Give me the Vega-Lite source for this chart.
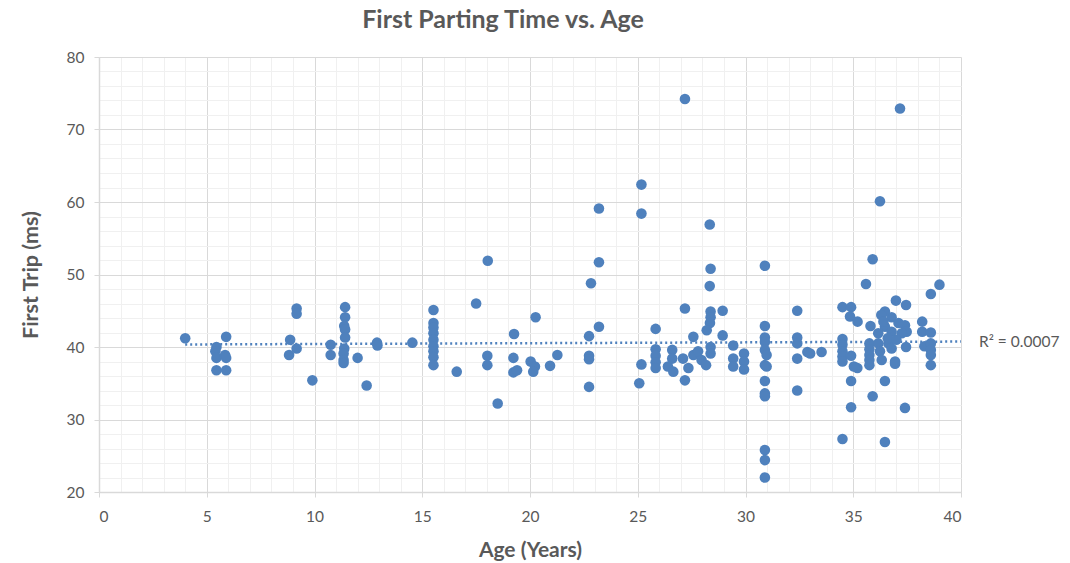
{
  "$schema": "https://vega.github.io/schema/vega-lite/v6.json",
  "autosize": "none",
  "width": 862,
  "height": 435,
  "padding": {"left": 99, "top": 57, "right": 109, "bottom": 71},
  "background": "white",
  "config": {
    "view": {"stroke": null},
    "font": "Lato",
    "axis": {"labelFont": "Lato", "titleFont": "Lato", "labelColor": "#595959", "titleColor": "#595959"}
  },
  "title": {"text": "First Parting Time vs. Age", "fontSize": 25, "font": "Lato", "fontWeight": "bold", "color": "#595959", "offset": 17, "dx": -27},
  "datasets": {
    "pts": [
      {"age": 4.0, "trip": 41.2}, {"age": 5.45, "trip": 40.0}, {"age": 5.4, "trip": 39.4}, {"age": 5.45, "trip": 38.5}, {"age": 5.45, "trip": 36.8},
      {"age": 5.85, "trip": 38.9}, {"age": 5.9, "trip": 38.5}, {"age": 5.9, "trip": 36.8}, {"age": 5.9, "trip": 41.4},
      {"age": 8.87, "trip": 41.0}, {"age": 9.17, "trip": 45.3}, {"age": 9.17, "trip": 44.6}, {"age": 9.17, "trip": 39.8}, {"age": 8.82, "trip": 38.9}, {"age": 9.9, "trip": 35.4},
      {"age": 10.75, "trip": 40.3}, {"age": 10.75, "trip": 38.9},
      {"age": 11.42, "trip": 45.5}, {"age": 11.42, "trip": 44.1}, {"age": 11.38, "trip": 42.9}, {"age": 11.42, "trip": 42.4}, {"age": 11.42, "trip": 41.3},
      {"age": 11.38, "trip": 39.8}, {"age": 11.35, "trip": 39.1}, {"age": 11.35, "trip": 38.2}, {"age": 11.35, "trip": 37.8},
      {"age": 12.0, "trip": 38.5}, {"age": 12.42, "trip": 34.7}, {"age": 12.9, "trip": 40.6}, {"age": 12.92, "trip": 40.2}, {"age": 14.54, "trip": 40.6},
      {"age": 15.52, "trip": 45.1}, {"age": 15.52, "trip": 43.3}, {"age": 15.52, "trip": 42.7}, {"age": 15.52, "trip": 41.9}, {"age": 15.52, "trip": 41.0},
      {"age": 15.52, "trip": 40.1}, {"age": 15.52, "trip": 39.4}, {"age": 15.52, "trip": 38.6}, {"age": 15.52, "trip": 37.5},
      {"age": 16.6, "trip": 36.6}, {"age": 17.5, "trip": 46.0}, {"age": 18.04, "trip": 51.9}, {"age": 18.02, "trip": 38.8}, {"age": 18.02, "trip": 37.5}, {"age": 18.5, "trip": 32.2},
      {"age": 20.26, "trip": 44.1}, {"age": 19.26, "trip": 41.8}, {"age": 19.23, "trip": 38.5}, {"age": 19.23, "trip": 36.5}, {"age": 19.4, "trip": 36.8},
      {"age": 20.03, "trip": 38.0}, {"age": 20.23, "trip": 37.3}, {"age": 20.15, "trip": 36.6}, {"age": 20.93, "trip": 37.4}, {"age": 21.27, "trip": 38.9},
      {"age": 22.74, "trip": 41.5}, {"age": 22.74, "trip": 38.8}, {"age": 22.74, "trip": 38.3}, {"age": 22.74, "trip": 34.5}, {"age": 22.83, "trip": 48.8},
      {"age": 23.2, "trip": 59.1}, {"age": 23.2, "trip": 51.7}, {"age": 23.2, "trip": 42.8},
      {"age": 25.17, "trip": 62.4}, {"age": 25.17, "trip": 58.4}, {"age": 25.17, "trip": 37.6}, {"age": 25.07, "trip": 35.0},
      {"age": 27.19, "trip": 74.2}, {"age": 25.83, "trip": 42.5}, {"age": 25.83, "trip": 39.7}, {"age": 25.83, "trip": 38.8}, {"age": 25.83, "trip": 37.9}, {"age": 25.83, "trip": 37.1},
      {"age": 26.4, "trip": 37.3}, {"age": 26.65, "trip": 36.6}, {"age": 26.6, "trip": 39.6}, {"age": 26.6, "trip": 38.4},
      {"age": 27.19, "trip": 45.3}, {"age": 27.19, "trip": 35.4}, {"age": 27.1, "trip": 38.4}, {"age": 27.35, "trip": 37.1},
      {"age": 27.58, "trip": 41.4}, {"age": 27.58, "trip": 38.9}, {"age": 27.8, "trip": 39.4}, {"age": 27.96, "trip": 38.2}, {"age": 28.17, "trip": 37.5},
      {"age": 28.34, "trip": 56.9}, {"age": 28.38, "trip": 50.8}, {"age": 28.34, "trip": 48.4}, {"age": 28.38, "trip": 44.9}, {"age": 28.38, "trip": 44.1},
      {"age": 28.35, "trip": 43.3}, {"age": 28.2, "trip": 42.3}, {"age": 28.38, "trip": 40.0}, {"age": 28.38, "trip": 39.1},
      {"age": 28.94, "trip": 45.0}, {"age": 28.94, "trip": 41.6},
      {"age": 29.43, "trip": 40.2}, {"age": 29.43, "trip": 38.4}, {"age": 29.43, "trip": 37.3}, {"age": 29.93, "trip": 39.1}, {"age": 29.93, "trip": 38.0}, {"age": 29.93, "trip": 36.9},
      {"age": 30.9, "trip": 51.2}, {"age": 30.9, "trip": 42.9}, {"age": 30.9, "trip": 41.3}, {"age": 30.9, "trip": 40.7}, {"age": 30.9, "trip": 39.6},
      {"age": 30.98, "trip": 38.9}, {"age": 30.9, "trip": 37.5}, {"age": 30.98, "trip": 37.3}, {"age": 30.9, "trip": 35.3}, {"age": 30.9, "trip": 33.6},
      {"age": 30.9, "trip": 33.2}, {"age": 30.9, "trip": 25.8}, {"age": 30.9, "trip": 24.4}, {"age": 30.9, "trip": 22.0},
      {"age": 32.4, "trip": 45.0}, {"age": 32.4, "trip": 41.3}, {"age": 32.4, "trip": 40.5}, {"age": 32.4, "trip": 38.4}, {"age": 32.4, "trip": 34.0},
      {"age": 32.87, "trip": 39.3}, {"age": 33.0, "trip": 39.1}, {"age": 33.53, "trip": 39.3},
      {"age": 37.17, "trip": 72.9}, {"age": 36.24, "trip": 60.1}, {"age": 35.9, "trip": 52.1}, {"age": 35.59, "trip": 48.7}, {"age": 39.0, "trip": 48.6}, {"age": 38.6, "trip": 47.3},
      {"age": 34.5, "trip": 45.5}, {"age": 34.9, "trip": 45.5}, {"age": 34.85, "trip": 44.2}, {"age": 35.2, "trip": 43.5},
      {"age": 34.5, "trip": 41.1}, {"age": 34.5, "trip": 40.3}, {"age": 34.5, "trip": 39.4}, {"age": 34.5, "trip": 38.7}, {"age": 34.5, "trip": 38.0},
      {"age": 34.9, "trip": 38.8}, {"age": 35.19, "trip": 37.1}, {"age": 34.9, "trip": 35.3}, {"age": 34.9, "trip": 31.7}, {"age": 34.5, "trip": 27.3},
      {"age": 35.8, "trip": 42.9}, {"age": 35.75, "trip": 40.5}, {"age": 35.75, "trip": 39.7}, {"age": 35.75, "trip": 38.9}, {"age": 35.75, "trip": 38.2}, {"age": 35.75, "trip": 37.5},
      {"age": 35.9, "trip": 33.2}, {"age": 36.47, "trip": 35.3}, {"age": 36.47, "trip": 26.9}, {"age": 36.94, "trip": 37.7},
      {"age": 36.98, "trip": 46.4}, {"age": 37.45, "trip": 45.8}, {"age": 36.78, "trip": 44.1}, {"age": 37.4, "trip": 43.0}, {"age": 37.48, "trip": 42.1},
      {"age": 37.45, "trip": 40.0}, {"age": 37.4, "trip": 31.6},
      {"age": 38.2, "trip": 43.5}, {"age": 38.2, "trip": 42.1}, {"age": 38.6, "trip": 42.0}, {"age": 38.3, "trip": 40.1}, {"age": 38.6, "trip": 40.5},
      {"age": 38.6, "trip": 39.6}, {"age": 38.6, "trip": 38.9}, {"age": 38.6, "trip": 37.5},
      {"age": 36.47, "trip": 44.9}, {"age": 36.3, "trip": 44.4}, {"age": 37.1, "trip": 43.3}, {"age": 36.47, "trip": 42.8}, {"age": 36.78, "trip": 42.1},
      {"age": 36.16, "trip": 41.9}, {"age": 37.25, "trip": 41.9}, {"age": 36.16, "trip": 40.5}, {"age": 36.63, "trip": 40.5}, {"age": 36.78, "trip": 39.8},
      {"age": 36.24, "trip": 39.4}, {"age": 36.32, "trip": 38.2}, {"age": 36.94, "trip": 38.0}, {"age": 35.03, "trip": 37.3},
      {"age": 36.4, "trip": 43.5}, {"age": 36.6, "trip": 41.2}, {"age": 37.0, "trip": 41.0}
    ],
    "trend": [
      {"age": 4.0, "trip": 40.35},
      {"age": 40.0, "trip": 40.75}
    ],
    "label": [
      {"age": 40.0, "trip": 40.75, "text": "R² = 0.0007"}
    ]
  },
  "resolve": {"axis": {"x": "independent", "y": "independent"}},
  "layer": [
    {
      "data": {"name": "trend"},
      "mark": {"type": "line", "opacity": 0},
      "encoding": {
        "x": {"field": "age", "type": "quantitative", "scale": {"domain": [0, 40], "nice": false},
          "axis": {"orient": "bottom", "values": [1,2,3,4,6,7,8,9,11,12,13,14,16,17,18,19,21,22,23,24,26,27,28,29,31,32,33,34,36,37,38,39], "grid": true, "gridColor": "#f0f0f0", "gridWidth": 1, "labels": false, "ticks": false, "domain": false, "title": null}},
        "y": {"field": "trip", "type": "quantitative", "scale": {"domain": [20, 80], "nice": false, "zero": false},
          "axis": {"orient": "left", "values": [22,24,26,28,32,34,36,38,42,44,46,48,52,54,56,58,62,64,66,68,72,74,76,78], "grid": true, "gridColor": "#f0f0f0", "gridWidth": 1, "labels": false, "ticks": false, "domain": false, "title": null}}
      }
    },
    {
      "data": {"name": "trend"},
      "mark": {"type": "line", "color": "#4F81BD", "strokeWidth": 2.5, "strokeDash": [2, 3]},
      "encoding": {
        "x": {"field": "age", "type": "quantitative", "scale": {"domain": [0, 40], "nice": false},
          "axis": {"orient": "bottom", "values": [0, 5, 10, 15, 20, 25, 30, 35, 40], "grid": true, "gridColor": "#d9d9d9", "gridWidth": 1,
            "domain": true, "domainColor": "#d9d9d9", "domainWidth": 1.5, "ticks": true, "tickColor": "#d9d9d9", "tickSize": 5,
            "labelFontSize": 15.5, "labelPadding": 12, "title": "Age (Years)", "titleFontSize": 21, "titleFontWeight": "bold", "titlePadding": 15}},
        "y": {"field": "trip", "type": "quantitative", "scale": {"domain": [20, 80], "nice": false, "zero": false},
          "axis": {"orient": "left", "values": [20, 30, 40, 50, 60, 70, 80], "grid": true, "gridColor": "#d9d9d9", "gridWidth": 1,
            "domain": true, "domainColor": "#d9d9d9", "domainWidth": 1.5, "ticks": true, "tickColor": "#d9d9d9", "tickSize": 5,
            "labelFontSize": 15.5, "labelPadding": 10, "title": "First Trip (ms)", "titleFontSize": 21.5, "titleFontWeight": "bold", "titlePadding": 24}}
      }
    },
    {
      "data": {"name": "pts"},
      "mark": {"type": "circle", "size": 112, "color": "#4F81BD", "opacity": 1},
      "encoding": {
        "x": {"field": "age", "type": "quantitative", "scale": {"domain": [0, 40], "nice": false}, "axis": null},
        "y": {"field": "trip", "type": "quantitative", "scale": {"domain": [20, 80], "nice": false, "zero": false}, "axis": null}
      }
    },
    {
      "data": {"name": "label"},
      "mark": {"type": "text", "align": "left", "baseline": "middle", "dx": 18, "fontSize": 15.5, "color": "#595959", "font": "Lato"},
      "encoding": {
        "x": {"field": "age", "type": "quantitative", "scale": {"domain": [0, 40], "nice": false}, "axis": null},
        "y": {"field": "trip", "type": "quantitative", "scale": {"domain": [20, 80], "nice": false, "zero": false}, "axis": null},
        "text": {"field": "text"}
      }
    }
  ]
}
